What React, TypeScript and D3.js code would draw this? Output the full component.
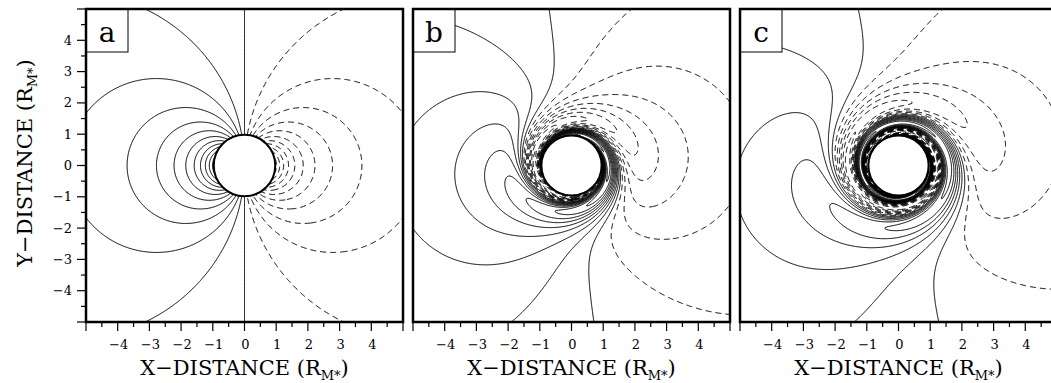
import React, { useMemo } from "react";
import * as d3 from "d3";

// ---------- data ----------
const PANEL_LABELS = ["a", "b", "c"];
// field strength relative to panel a
const AMPLITUDE = [1, 1, 0.94];
// uniform (far-field) rotation of the pattern, degrees
const FAR_TWIST_DEG = [0, 8, 14];
// extra near-surface winding, degrees, and its radial e-folding length (R_M*)
const NEAR_TWIST_DEG = [0, 254, 505];
const NEAR_LEN = [1, 0.45, 0.55];
const DISK_RADIUS = [0.97, 0.95, 0.95];
const LEVELS = [
  -0.99, -0.9, -0.81, -0.72, -0.63, -0.54, -0.45, -0.36, -0.27, -0.18, -0.09,
  0,
  0.09, 0.18, 0.27, 0.36, 0.45, 0.54, 0.63, 0.72, 0.81, 0.9, 0.99,
];
const MAJOR_TICKS = [-5, -4, -3, -2, -1, 0, 1, 2, 3, 4, 5];
const MINOR_TICKS = [-4.5, -3.5, -2.5, -1.5, -0.5, 0.5, 1.5, 2.5, 3.5, 4.5];
const TICK_LABELS = [-4, -3, -2, -1, 0, 1, 2, 3, 4];
const DOMAIN: [number, number] = [-5, 5];

// ---------- layout ----------
const W = 1051;
const H = 383;
const PX0 = 86;
const PW = 317;
const PGAP = 10;
const PT = 9;
const PH = 313;
const GRID = 400;
const FONT = "'DejaVu Serif', 'Liberation Serif', serif";

function fmt(v: number) {
  return v < 0 ? "\u2212" + Math.abs(v) : String(v);
}

function Panel({ idx }: { idx: number }) {
  const left = PX0 + idx * (PW + PGAP);
  const x = d3.scaleLinear().domain(DOMAIN).range([left, left + PW]);
  const y = d3.scaleLinear().domain(DOMAIN).range([PT + PH, PT]);
  const gx = d3.scaleLinear().domain([0, GRID]).range([left, left + PW]);
  const gy = d3.scaleLinear().domain([0, GRID]).range([PT, PT + PH]);
  const rd = DISK_RADIUS[idx];

  const paths = useMemo(() => {
    const tf = (FAR_TWIST_DEG[idx] * Math.PI) / 180;
    const tn = (NEAR_TWIST_DEG[idx] * Math.PI) / 180;
    const amp = AMPLITUDE[idx];
    const values = new Float64Array(GRID * GRID);
    for (let j = 0; j < GRID; j++) {
      const yy = DOMAIN[1] - ((j + 0.5) * (DOMAIN[1] - DOMAIN[0])) / GRID;
      for (let i = 0; i < GRID; i++) {
        const xx = DOMAIN[0] + ((i + 0.5) * (DOMAIN[1] - DOMAIN[0])) / GRID;
        const r = Math.max(Math.hypot(xx, yy), rd);
        const th = Math.atan2(yy, xx);
        const a = tf + tn * Math.exp(-(r - 1) / NEAR_LEN[idx]);
        values[j * GRID + i] = (amp * Math.cos(th - a)) / r;
      }
    }
    const cs = d3.contours().size([GRID, GRID]).thresholds(LEVELS)(Array.from(values));
    const proj = d3.geoTransform({
      point(px: number, py: number) {
        (this as any).stream.point(gx(px), gy(py));
      },
    });
    const gp = d3.geoPath(proj);
    return cs.map((c) => ({ v: c.value, d: gp(c as any) || "" }));
  }, [idx]);

  const clipId = `clip-${idx}`;
  const [cx, cy] = [x(0), y(0)];
  const rpx = x(rd) - x(0);

  return (
    <g>
      <defs>
        <clipPath id={clipId}>
          <rect x={left} y={PT} width={PW} height={PH} />
        </clipPath>
      </defs>
      <g clipPath={`url(#${clipId})`}>
        {paths.map((p, k) => (
          <path
            key={k}
            d={p.d}
            fill="none"
            stroke="#000"
            strokeWidth={1}
            strokeDasharray={p.v > 0 ? "6,4" : undefined}
          />
        ))}
        <circle cx={cx} cy={cy} r={rpx} fill="#fff" stroke="#000" strokeWidth={2} />
      </g>
      {/* label box */}
      <rect x={left} y={PT} width={42} height={43} fill="#fff" stroke="#000" strokeWidth={1} />
      <text x={left + 21} y={PT + 33} textAnchor="middle" fontFamily={FONT} fontSize={28}>
        {PANEL_LABELS[idx]}
      </text>
      {/* frame */}
      <rect x={left} y={PT} width={PW} height={PH} fill="none" stroke="#000" strokeWidth={2.5} />
      {/* x ticks */}
      {MAJOR_TICKS.map((v) => (
        <line key={"M" + v} x1={x(v)} x2={x(v)} y1={PT + PH} y2={PT + PH + 9} stroke="#000" strokeWidth={1.2} />
      ))}
      {MINOR_TICKS.map((v) => (
        <line key={"m" + v} x1={x(v)} x2={x(v)} y1={PT + PH} y2={PT + PH + 5} stroke="#000" strokeWidth={1.2} />
      ))}
      {TICK_LABELS.map((v) => (
        <text key={"L" + v} x={x(v) + 1} y={349} textAnchor="middle" fontFamily={FONT} fontSize={13}>
          {fmt(v)}
        </text>
      ))}
      <text x={left + PW / 2} y={375} textAnchor="middle" fontFamily={FONT} fontSize={21}>
        X{"\u2212"}DISTANCE (R
        <tspan dy={5} fontSize={13}>M*</tspan>
        <tspan dy={-5}>)</tspan>
      </text>
      {idx === 0 && (
        <g>
          {MAJOR_TICKS.map((v) => (
            <line key={"yM" + v} x1={left} x2={left - 9} y1={y(v)} y2={y(v)} stroke="#000" strokeWidth={1.2} />
          ))}
          {MINOR_TICKS.map((v) => (
            <line key={"ym" + v} x1={left} x2={left - 5} y1={y(v)} y2={y(v)} stroke="#000" strokeWidth={1.2} />
          ))}
          {TICK_LABELS.map((v) => (
            <text key={"yL" + v} x={72} y={y(v) + 4.5} textAnchor="end" fontFamily={FONT} fontSize={13}>
              {fmt(v)}
            </text>
          ))}
          <text transform={`translate(32,163) rotate(-90)`} textAnchor="middle" fontFamily={FONT} fontSize={21}>
            Y{"\u2212"}DISTANCE (R
            <tspan dy={5} fontSize={13}>M*</tspan>
            <tspan dy={-5}>)</tspan>
          </text>
        </g>
      )}
    </g>
  );
}

export default function App() {
  return (
    <svg width={W} height={H} style={{ display: "block", position: "absolute", left: 0, top: 0, background: "#fff" }}>
      <rect x={0} y={0} width={W} height={H} fill="#fff" />
      {PANEL_LABELS.map((_, i) => (
        <Panel key={i} idx={i} />
      ))}
    </svg>
  );
}
